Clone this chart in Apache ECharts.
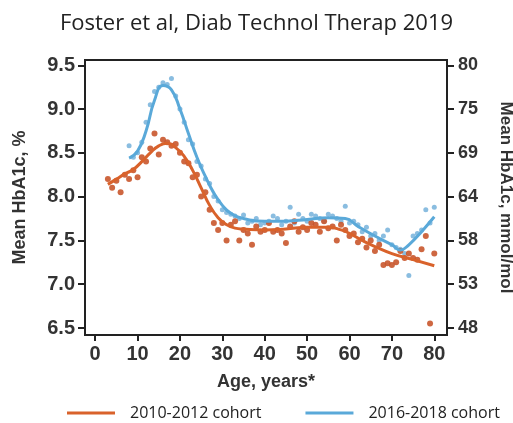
<!DOCTYPE html>
<html>
<head>
<meta charset="utf-8">
<script src="https://cdn.jsdelivr.net/npm/echarts@6/dist/echarts.min.js"></script>
<style>html,body{margin:0;padding:0;background:#fff}#c{width:513px;height:423px}</style>
</head>
<body>
<div id="c"></div>
<script>
// Tick labels
const xTicks = [0, 10, 20, 30, 40, 50, 60, 70, 80];
const leftTicks = [6.5, 7.0, 7.5, 8.0, 8.5, 9.0, 9.5];
const rightTickLabels = ['48', '53', '58', '64', '69', '75', '80'];

// 2010-2012 cohort smoothed curve
const orangeLineAges = [3, 5, 7, 9, 11, 13, 15, 17, 19, 21, 23, 25, 27, 29, 31, 33, 35, 40, 45, 50, 55, 58, 60, 63, 66, 70, 75, 80];
const orangeLineVals = [8.14, 8.2, 8.26, 8.31, 8.4, 8.5, 8.58, 8.61, 8.56, 8.46, 8.3, 8.1, 7.9, 7.76, 7.68, 7.64, 7.63, 7.62, 7.63, 7.65, 7.65, 7.62, 7.58, 7.5, 7.43, 7.35, 7.28, 7.21];

// 2016-2018 cohort smoothed curve
const blueLineAges = [8, 10, 12, 14, 16, 18, 20, 22, 24, 26, 28, 30, 32, 35, 40, 45, 50, 55, 59, 62, 66, 70, 72, 74, 77, 80];
const blueLineVals = [8.44, 8.52, 8.75, 9.1, 9.27, 9.22, 9.0, 8.72, 8.45, 8.23, 8.04, 7.9, 7.81, 7.75, 7.72, 7.72, 7.74, 7.76, 7.75, 7.66, 7.55, 7.45, 7.39, 7.45, 7.6, 7.77];

// 2010-2012 cohort yearly means (dots)
const orangeDotAges = [3,4,5,6,7,8,9,10,11,12,13,14,15,16,17,18,19,20,21,22,23,24,25,26,27,28,29,30,31,32,33,34,35,36,37,38,39,40,41,42,43,44,45,46,47,48,49,50,51,52,53,54,55,56,57,58,59,60,61,62,63,64,65,66,67,68,69,70,71,72,73,74,75,76,77,78,79,80];
const orangeDotVals = [8.2,8.1,8.18,8.05,8.25,8.2,8.3,8.22,8.45,8.4,8.55,8.72,8.48,8.65,8.62,8.58,8.6,8.5,8.4,8.38,8.22,8.25,8.0,8.05,7.85,7.7,7.62,7.7,7.5,7.68,7.72,7.5,7.62,7.58,7.45,7.66,7.6,7.62,7.7,7.6,7.62,7.58,7.47,7.66,7.72,7.6,7.65,7.62,7.7,7.68,7.6,7.72,7.64,7.66,7.5,7.68,7.62,7.55,7.58,7.48,7.52,7.42,7.5,7.38,7.45,7.22,7.24,7.22,7.25,7.38,7.3,7.35,7.3,7.28,7.4,7.55,6.55,7.35];

// 2016-2018 cohort yearly means (dots)
const blueDotAges = [8,9,10,11,12,13,14,15,16,17,18,19,20,21,22,23,24,25,26,27,28,29,30,31,32,33,34,35,36,37,38,39,40,41,42,43,44,45,46,47,48,49,50,51,52,53,54,55,56,57,58,59,60,61,62,63,64,65,66,67,68,69,70,71,72,73,74,75,76,77,78,79,80];
const blueDotVals = [8.58,8.45,8.5,8.62,8.85,9.05,9.2,9.25,9.3,9.28,9.35,9.15,9.0,8.85,8.65,8.6,8.4,8.35,8.2,8.15,8.0,7.95,7.85,7.82,7.8,7.78,7.75,7.79,7.7,7.72,7.75,7.68,7.7,7.72,7.78,7.75,7.68,7.72,7.88,7.7,7.8,7.75,7.72,7.8,7.78,7.75,7.72,7.8,7.78,7.75,7.72,7.89,7.7,7.72,7.68,7.6,7.65,7.55,7.58,7.5,7.55,7.62,7.45,7.42,7.4,7.35,7.1,7.55,7.58,7.62,7.85,7.7,7.88];

const zip = (a, b) => a.map((v, i) => [v, b[i]]);
const ORANGE = '#d9622b', BLUE = '#5aa9d9';
const axisFont = {fontFamily: 'Liberation Sans, Arial, sans-serif', fontWeight: 'bold', color: '#333'};

const chart = echarts.init(document.getElementById('c'), null, {renderer: 'canvas'});
chart.setOption({
  animation: false,
  title: {
    text: 'Foster et al, Diab Technol Therap 2019',
    left: 'center', top: 8,
    textStyle: {fontFamily: 'Open Sans, sans-serif', fontSize: 22, fontWeight: 'normal', color: '#222'}
  },
  legend: {
    data: ['2010-2012 cohort', '2016-2018 cohort'],
    bottom: -3, left: 62,
    icon: 'rect', itemWidth: 48, itemHeight: 3, itemGap: 44,
    textStyle: {fontFamily: 'Open Sans, sans-serif', fontSize: 16, color: '#222', padding: [0, 0, 0, 10]}
  },
  grid: {left: 85, right: 66, top: 60, bottom: 88, show: true, borderColor: '#222', borderWidth: 2,
    containLabel: false, outerBoundsMode: 'none'},
  xAxis: {
    type: 'value', min: -2.4, max: 83,
    name: 'Age, years*', nameLocation: 'middle', nameGap: 38,
    nameTextStyle: Object.assign({fontSize: 18}, axisFont),
    axisLine: {show: true, onZero: false, lineStyle: {color: '#222', width: 2}},
    axisTick: {show: true, length: 6, lineStyle: {color: '#222', width: 2}, customValues: xTicks},
    axisLabel: Object.assign({fontSize: 20, margin: 9, customValues: xTicks}, axisFont),
    splitLine: {show: false}
  },
  yAxis: [{
    type: 'value', min: 6.42, max: 9.56, position: 'left',
    name: 'Mean HbA1c, %', nameLocation: 'middle', nameGap: 56, nameRotate: 90,
    nameTextStyle: Object.assign({fontSize: 18}, axisFont),
    axisLine: {show: true, onZero: false, lineStyle: {color: '#222', width: 2}},
    axisTick: {show: true, length: 7, lineStyle: {color: '#222', width: 2}, customValues: leftTicks},
    axisLabel: Object.assign({fontSize: 20, margin: 10, customValues: leftTicks,
      formatter: v => v.toFixed(1)}, axisFont),
    splitLine: {show: false}
  }, {
    type: 'value', min: 6.42, max: 9.56, position: 'right',
    name: 'Mean HbA1c, mmol/mol', nameLocation: 'middle', nameGap: 50, nameRotate: -90,
    nameTextStyle: Object.assign({fontSize: 17}, axisFont),
    axisLine: {show: true, onZero: false, lineStyle: {color: '#222', width: 2}},
    axisTick: {show: true, length: 7, lineStyle: {color: '#222', width: 2}, customValues: leftTicks},
    axisLabel: Object.assign({fontSize: 18, margin: 11, customValues: leftTicks,
      formatter: v => {
        const i = leftTicks.findIndex(t => Math.abs(t - v) < 1e-6);
        return i >= 0 ? rightTickLabels[i] : '';
      }}, axisFont),
    splitLine: {show: false}
  }],
  series: [
    {name: '2016-2018 cohort dots', type: 'scatter', data: zip(blueDotAges, blueDotVals),
      symbolSize: 5, itemStyle: {color: '#7db6dd', opacity: 0.9}, z: 2},
    {name: '2010-2012 cohort dots', type: 'scatter', data: zip(orangeDotAges, orangeDotVals),
      symbolSize: 6, itemStyle: {color: '#c9562c', opacity: 0.9}, z: 2},
    {name: '2010-2012 cohort', type: 'line', smooth: 0.5, showSymbol: false, symbol: 'none',
      data: zip(orangeLineAges, orangeLineVals), lineStyle: {color: ORANGE, width: 3}, itemStyle: {color: ORANGE}, z: 3},
    {name: '2016-2018 cohort', type: 'line', smooth: 0.5, showSymbol: false, symbol: 'none',
      data: zip(blueLineAges, blueLineVals), lineStyle: {color: BLUE, width: 3}, itemStyle: {color: BLUE}, z: 3}
  ]
});
</script>
</body>
</html>
